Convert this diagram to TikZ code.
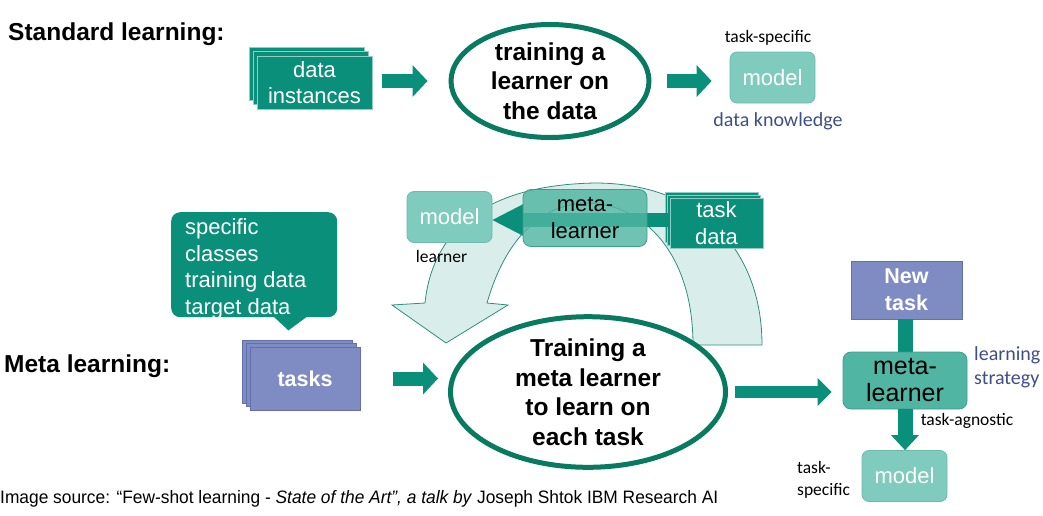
\documentclass[tikz,border=0pt]{standalone}
\usepackage{fontspec}
\usepackage{graphicx}
\setmainfont{Liberation Sans}
\newfontfamily\calfont{Carlito}
\usetikzlibrary{shapes.geometric,shadows,arrows.meta,calc}
\definecolor{tealD}{HTML}{0A8F7B}
\definecolor{ellC}{HTML}{087A60}
\definecolor{tealL}{HTML}{7FCBBD}
\definecolor{tealLb}{HTML}{6DBBAD}
\definecolor{tealM}{HTML}{50B5A2}
\definecolor{tealMb}{HTML}{3E9E8C}
\definecolor{purp}{HTML}{7F8CC4}
\definecolor{purpb}{HTML}{6370AE}
\definecolor{bandC}{HTML}{D9EEEA}
\definecolor{bandD}{HTML}{2F8E7E}
\definecolor{blueT}{HTML}{3F4F86}
\begin{document}
\begin{tikzpicture}[x=1pt,y=-1pt,
  boxtxt/.style={font=\fontsize{22}{26.5}\selectfont, align=center},
  btxt/.style={font=\bfseries\fontsize{24.5}{29.5}\selectfont, align=center},
  lbl/.style={font=\calfont\fontsize{17.5}{22}\selectfont, inner sep=0pt},
  bluelbl/.style={font=\calfont\fontsize{20}{24}\selectfont, text=blueT, inner sep=0pt},
  headlbl/.style={font=\bfseries\fontsize{24.5}{29}\selectfont, inner sep=0pt},
  tealstack/.style={fill=tealD, draw=white!55!tealD, line width=0.8pt, text=white, boxtxt,
    copy shadow={shadow xshift=-8pt, shadow yshift=9pt},
    copy shadow={shadow xshift=-4pt, shadow yshift=4.5pt}},
  smallstack/.style={fill=tealD, draw=white!55!tealD, line width=0.8pt, text=white, boxtxt,
    copy shadow={shadow xshift=-5pt, shadow yshift=6pt},
    copy shadow={shadow xshift=-2.5pt, shadow yshift=3pt}},
  purpstack/.style={fill=purp, draw=purpb, line width=0.8pt, text=white, boxtxt, font=\bfseries\fontsize{21.5}{27}\selectfont,
    copy shadow={shadow xshift=-8pt, shadow yshift=7pt},
    copy shadow={shadow xshift=-4pt, shadow yshift=3.5pt}},
  modelbox/.style={fill=tealL, draw=tealLb, line width=0.8pt, rounded corners=7pt, text=white, boxtxt, minimum width=85pt, minimum height=51pt},
  metabox/.style={fill=tealM, draw=tealMb, line width=0.8pt, rounded corners=8pt, boxtxt, text=black, minimum width=124pt, minimum height=57pt},
  trainell/.style={ellipse, draw=ellC, line width=5pt, fill=white, btxt, inner sep=0pt},
  barrow/.style={tealD, line width=14pt, -{Triangle[width=32pt,length=15pt,line width=0pt]}},
]
\useasboundingbox (0,0) rectangle (1043,515);

% ---------- Standard learning ----------
\node[headlbl, anchor=west] (std) at (8,34) {Standard learning:};
\node[tealstack, minimum width=115pt, minimum height=53pt] (di) at (314.5,82.5) {data\\instances};
\node[trainell, minimum width=198pt, minimum height=113pt] (tr1) at (550,81) {training a\\learner on\\the data};
\node[modelbox] (m1) at (772.5,77.5) {model};
\node[lbl] (ts1) at (768,38) {task-specific};
\node[bluelbl] (dk) at (778,121) {data knowledge};
\draw[barrow, shorten <=10pt, shorten >=21pt] (di.east |- tr1.west) -- (tr1.west);
\draw[barrow, shorten <=15pt, shorten >=18pt] (tr1.east) -- (tr1.east -| m1.west);

% ---------- Meta learning ----------
\node[headlbl, anchor=west] (meta) at (4,366) {Meta learning:};

% curved light arrow
\filldraw[fill=bandC, draw=bandD, line width=0.8pt]
  (425,303) .. controls (432,235) and (480,185) .. (595,183)
  .. controls (700,183) and (762,250) .. (762,345)
  -- (693,345)
  .. controls (693,255) and (645,203) .. (585,203)
  .. controls (540,205) and (505,240) .. (487,303)
  -- (508,305) -- (446,343) -- (392,305) -- cycle;

\node[modelbox] (m3) at (449.5,217) {model};
\node[smallstack, minimum width=93pt, minimum height=50pt] (td) at (716.5,223) {task\\data};
\draw[tealD, line width=14pt, -{Triangle[width=32pt,length=31pt,line width=0pt]}]
  ([yshift=3pt]td.west) -- ([yshift=3pt]td.west -| m3.east);
\node[metabox, fill opacity=0.82, text opacity=1] (ml3) at (585,218) {meta-\\learner};
\node[lbl] (lrn) at (441.5,256) {learner};

% callout
\node[fill=tealD, rounded corners=9pt, text=white, font=\fontsize{22}{26.5}\selectfont,
      inner sep=0pt, minimum width=166pt, minimum height=105pt, anchor=north west]
  (call) at (171,212) {\raisebox{-9.5pt}[0pt][0pt]{\parbox{138pt}{\raggedright specific\\classes\\training data\\target data}}};
\fill[tealD] ([yshift=1pt]call.south east) ++(-64,0) -- ++(15,14) -- ++(19,-14) -- cycle;

% tasks
\node[purpstack, minimum width=110pt, minimum height=63pt] (tasks) at (305,378.5) {tasks};
\node[trainell, minimum width=275pt, minimum height=145pt] (tr2) at (588,392) {Training a\\meta learner\\to learn on\\each task};
\draw[barrow, shorten <=33pt, shorten >=10pt] (tasks.east) -- (tasks.east -| tr2.west);

% right column
\node[fill=purp, draw=purpb, line width=0.8pt, text=white, align=center,
      font=\bfseries\fontsize{21.5}{27}\selectfont, minimum width=111pt, minimum height=58pt] (nt) at (906.5,290) {New\\task};
\draw[tealD, line width=15pt] (nt.south -| 905,0) -- (905,352);
\node[metabox, font=\fontsize{25}{27}\selectfont] (ml2) at (905,380.5) {\color{black}meta-\\learner};
\node[modelbox] (m2) at (904.5,476) {model};
\draw[tealD, line width=15pt, -{Triangle[width=28pt,length=15pt,line width=0pt]}] (ml2.south) -- (ml2.south |- m2.north);
\draw[tealD, line width=12pt, -{Triangle[width=28pt,length=14pt,line width=0pt]}, shorten <=7pt, shorten >=11pt]
  (tr2.east) -- (tr2.east -| ml2.west);

\node[bluelbl, anchor=west, align=left] (ls) at (974,367) {learning\\strategy};
\node[lbl] (ta) at (967,421) {task-agnostic};
\node[lbl, anchor=west, align=left] (tsp) at (797,480) {task-\\specific};

% footer
\node[anchor=base west, inner sep=0pt] (src) at (0,503)
  {\resizebox{718pt}{\height}{\fontsize{18}{20}\selectfont Image source: “Few-shot learning - \textit{State of the Art”, a talk by} Joseph Shtok IBM Research AI}};
\end{tikzpicture}
\end{document}
